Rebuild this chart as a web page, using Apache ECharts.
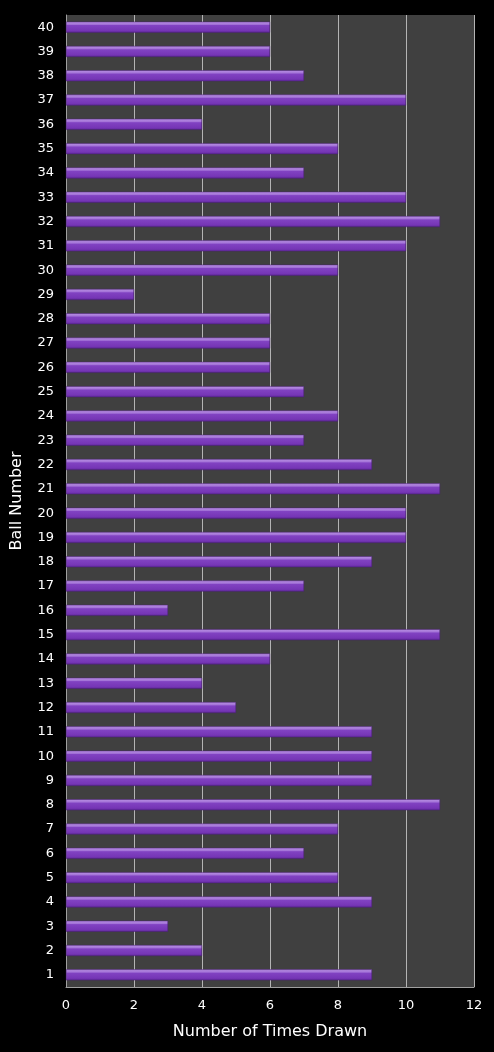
<!DOCTYPE html>
<html>
<head>
<meta charset="utf-8">
<script src="https://cdn.jsdelivr.net/npm/echarts@6/dist/echarts.min.js"></script>
<style>
html, body { margin: 0; padding: 0; background: #000; }
#chart { width: 494px; height: 1052px; }
</style>
</head>
<body>
<div id="chart"></div>
<script>
// ball numbers 1..40, bottom to top
var balls = ['1','2','3','4','5','6','7','8','9','10','11','12','13','14','15','16','17','18','19','20',
             '21','22','23','24','25','26','27','28','29','30','31','32','33','34','35','36','37','38','39','40'];
var timesDrawn = [9,4,3,9,8,7,8,11,9,9,9,5,4,6,11,3,7,9,10,10,
                  11,9,7,8,7,6,6,6,2,8,10,11,10,7,8,4,10,7,6,6];
var xTicks = [0, 2, 4, 6, 8, 10, 12];

var chart = echarts.init(document.getElementById('chart'));

var option = {
    backgroundColor: '#000',
    animation: false,
    grid: { left: 66, right: 20, top: 15, bottom: 65, backgroundColor: '#404040', show: true, borderWidth: 0 },
    xAxis: {
        type: 'value',
        min: xTicks[0],
        max: xTicks[xTicks.length - 1],
        interval: 2,
        name: 'Number of Times Drawn',
        nameLocation: 'middle',
        nameGap: 37,
        nameTextStyle: { color: '#fff', fontSize: 16, fontFamily: 'DejaVu Sans' },
        axisLine: { show: true, lineStyle: { color: '#a0a0a0' } },
        axisTick: { show: false },
        axisLabel: { color: '#fff', fontSize: 13, fontFamily: 'DejaVu Sans', margin: 12 },
        splitLine: { show: true, lineStyle: { color: '#b4b4b4', width: 1 } }
    },
    yAxis: {
        type: 'category',
        data: balls,
        name: 'Ball Number',
        nameLocation: 'middle',
        nameGap: 41,
        nameRotate: 90,
        nameTextStyle: { color: '#fff', fontSize: 16, fontFamily: 'DejaVu Sans' },
        axisLine: { show: true, lineStyle: { color: '#a0a0a0' } },
        axisTick: { show: false },
        axisLabel: { color: '#fff', fontSize: 13, fontFamily: 'DejaVu Sans', margin: 12 },
        splitLine: { show: false }
    },
    series: [{
        type: 'bar',
        data: timesDrawn,
        barWidth: 11,
        itemStyle: {
            color: new echarts.graphic.LinearGradient(0, 0, 0, 1, [
                { offset: 0, color: '#b991e3' },
                { offset: 0.25, color: '#a474d8' },
                { offset: 0.35, color: '#8142c2' },
                { offset: 0.8, color: '#7636b6' },
                { offset: 1, color: '#5e2898' }
            ]),
            borderColor: '#4a1e78',
            borderWidth: 0.5
        }
    }]
};

chart.setOption(option);
</script>
</body>
</html>
